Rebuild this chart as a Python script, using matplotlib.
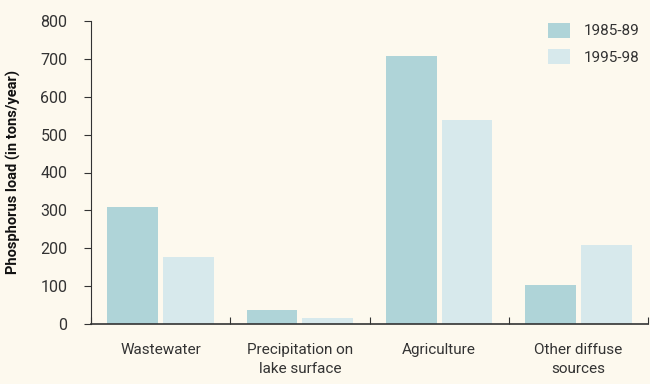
import matplotlib
matplotlib.use("Agg")
import matplotlib.pyplot as plt
import numpy as np

categories = ["Wastewater", "Precipitation on\nlake surface", "Agriculture", "Other diffuse\nsources"]
series_names = ["1985-89", "1995-98"]
vals_1985 = [310, 37, 707, 103]
vals_1995 = [178, 16, 538, 208]
yticks = [0, 100, 200, 300, 400, 500, 600, 700, 800]

bg = "#fdf9ee"
c1 = "#afd4d8"
c2 = "#d7e9ec"
txt = "#333333"

plt.rcParams['font.family'] = ['Roboto', 'DejaVu Sans']

fig = plt.figure(figsize=(6.5, 3.84), dpi=100, facecolor=bg)
ax = fig.add_axes([91/650, 60/384, 557/650, 303/384], facecolor=bg)

x = np.arange(len(categories))
w = 0.365
ax.bar(x - 0.2, vals_1985, w, color=c1, label=series_names[0])
ax.bar(x + 0.2, vals_1995, w, color=c2, label=series_names[1])

ax.set_xlim(-0.5, len(categories) - 0.5)
ax.set_ylim(0, 800)
ax.set_yticks(yticks)
ax.set_yticklabels([str(v) for v in yticks], fontsize=11.5, color=txt)
ax.set_xticks(np.arange(len(categories) + 1) - 0.5)
ax.set_xticklabels([])
ax.set_xticks(x, minor=True)
ax.set_xticklabels(categories, minor=True, fontsize=11, color=txt, linespacing=1.45)
ax.tick_params(axis='x', which='minor', length=0, pad=14)
ax.tick_params(axis='x', which='major', direction='in', length=5, color=txt)
ax.tick_params(axis='y', direction='out', length=5, color=txt, pad=12)

for s in ['top', 'right']:
    ax.spines[s].set_visible(False)
ax.spines['left'].set_color(txt)
ax.spines['bottom'].set_color(txt)
ax.spines['bottom'].set_linewidth(1.2)

ax.set_ylabel("Phosphorus load (in tons/year)", fontsize=10.5, fontweight='bold', color='#111111', labelpad=14)

leg = ax.legend(loc='upper right', bbox_to_anchor=(1.01, 1.04), frameon=False, fontsize=11,
                handlelength=1.45, handleheight=1.15, handletextpad=0.9, labelspacing=0.7,
                labelcolor=txt)

fig.savefig("out.png", dpi=100, facecolor=bg)
